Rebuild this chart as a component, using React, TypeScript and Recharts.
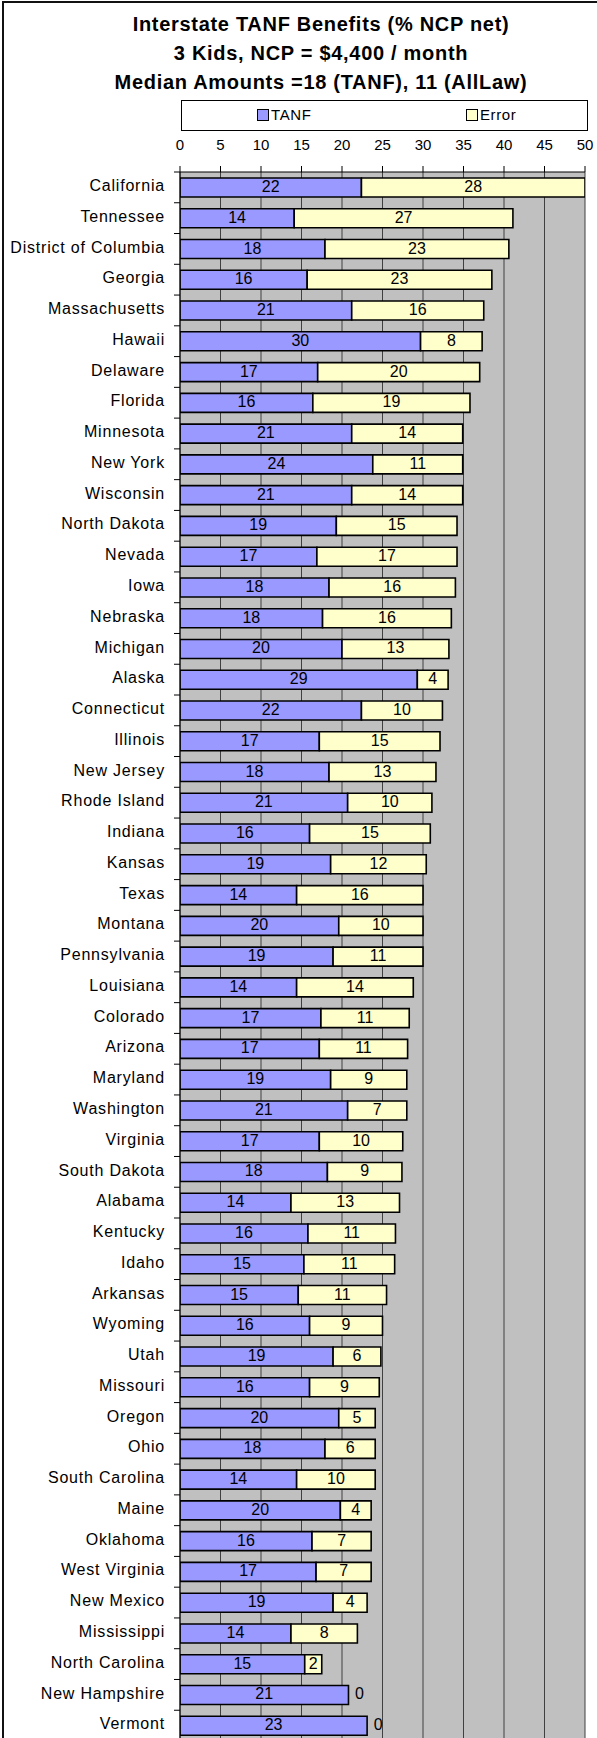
import { BarChart, Bar, XAxis, YAxis, CartesianGrid, Legend, LabelList } from 'recharts';

const states = [
  'California', 'Tennessee', 'District of Columbia', 'Georgia', 'Massachusetts', 'Hawaii', 'Delaware',
  'Florida', 'Minnesota', 'New York', 'Wisconsin', 'North Dakota', 'Nevada', 'Iowa', 'Nebraska',
  'Michigan', 'Alaska', 'Connecticut', 'Illinois', 'New Jersey', 'Rhode Island', 'Indiana', 'Kansas',
  'Texas', 'Montana', 'Pennsylvania', 'Louisiana', 'Colorado', 'Arizona', 'Maryland', 'Washington',
  'Virginia', 'South Dakota', 'Alabama', 'Kentucky', 'Idaho', 'Arkansas', 'Wyoming', 'Utah',
  'Missouri', 'Oregon', 'Ohio', 'South Carolina', 'Maine', 'Oklahoma', 'West Virginia', 'New Mexico',
  'Mississippi', 'North Carolina', 'New Hampshire', 'Vermont',
];

// TANF share (% of NCP net)
const tanf = [
  22.4, 14.1, 17.9, 15.7, 21.2, 29.7, 17.0, 16.4, 21.2, 23.8, 21.2, 19.3, 16.9, 18.4, 17.6,
  20.0, 29.3, 22.4, 17.2, 18.4, 20.7, 16.0, 18.6, 14.4, 19.6, 18.9, 14.4, 17.4, 17.2, 18.6,
  20.7, 17.2, 18.2, 13.7, 15.8, 15.3, 14.6, 16.0, 18.9, 16.0, 19.6, 17.9, 14.4, 19.8, 16.3,
  16.8, 18.9, 13.7, 15.4, 20.8, 23.1,
];

// gap to AllLaw amount
const error = [
  27.6, 27.0, 22.7, 22.8, 16.3, 7.6, 20.0, 19.4, 13.7, 11.1, 13.7, 14.9, 17.3, 15.6, 15.9,
  13.2, 3.8, 10.0, 14.9, 13.2, 10.4, 14.9, 11.8, 15.6, 10.4, 11.1, 14.4, 10.9, 10.9, 9.4,
  7.3, 10.3, 9.2, 13.4, 10.8, 11.2, 10.9, 9.0, 5.9, 8.6, 4.5, 6.2, 9.7, 3.8, 7.3,
  6.8, 4.2, 8.2, 2.1, 0, 0,
];

const xTicks = [0, 5, 10, 15, 20, 25, 30, 35, 40, 45, 50];

const seriesNames = ['TANF', 'Error'];

const titleLines = [
  'Interstate TANF Benefits (% NCP net)',
  '3 Kids, NCP = $4,400 / month',
  'Median Amounts =18 (TANF), 11 (AllLaw)',
];

const data = states.map((name, i) => ({ name, tanf: tanf[i], error: error[i] }));

const FONT = '"Liberation Sans", Arial, sans-serif';
const CHART_W = 600;
const CHART_H = 1741;
const MARGIN = { top: 100, right: 15, bottom: 0, left: 0 };
const LEGEND_H = 31;
const XAXIS_H = 41;
const YAXIS_W = 180;
const PLOT_TOP = MARGIN.top + LEGEND_H + XAXIS_H;
const ROW = (CHART_H - PLOT_TOP - MARGIN.bottom) / states.length;

function StateTick({ y, payload }: { y?: number; payload?: { value: string } }) {
  const cy = y ?? 0;
  return (
    <g>
      <line x1={YAXIS_W - 6} x2={YAXIS_W} y1={cy - ROW / 2} y2={cy - ROW / 2} stroke="#000" />
      <text
        x={YAXIS_W - 15}
        y={cy}
        dy={3.7}
        textAnchor="end"
        fontSize={16}
        letterSpacing={0.8}
        fill="#000"
        fontFamily={FONT}
      >
        {payload?.value}
      </text>
    </g>
  );
}

function labelText(cx: number, cy: number, v: number, key?: string) {
  return (
    <text key={key} x={cx} y={cy} dy={4.5} textAnchor="middle" fontSize={16} fill="#000" fontFamily={FONT}>
      {Math.round(v)}
    </text>
  );
}

// TANF segment label; also draws the "0" Error label when the error segment is empty
function TanfLabel(props: any) {
  const { x, y, width, height, value, index } = props;
  const cy = y + height / 2;
  const zeroErr = typeof index === 'number' && error[index] === 0;
  return (
    <g>
      {labelText(x + width / 2, cy, Number(value), 'v')}
      {zeroErr ? labelText(x + width + 11, cy, 0, 'z') : null}
    </g>
  );
}

function ErrorLabel(props: any) {
  const { x, y, width, height, value } = props;
  const v = Number(value);
  if (!v) return null;
  return labelText(x + width / 2, y + height / 2, v);
}

const legendPos = [75, 284];

function LegendBox({ payload }: { payload?: { value: string; color?: string; payload?: any }[] }) {
  const items = [...(payload ?? [])].sort((a, b) => seriesNames.indexOf(a.value) - seriesNames.indexOf(b.value));
  return (
    <div
      style={{
        position: 'relative',
        width: 407,
        height: LEGEND_H,
        boxSizing: 'border-box',
        border: '1px solid #000',
        background: '#fff',
        fontFamily: FONT,
        fontSize: 15,
      }}
    >
      {items.map((p, i) => (
        <div key={p.value} style={{ position: 'absolute', left: legendPos[i], top: 6, height: 15, lineHeight: '15px', whiteSpace: 'nowrap' }}>
          <span
            style={{
              display: 'inline-block',
              width: 10,
              height: 10,
              border: '1px solid #000',
              background: p.payload?.fill ?? p.color,
              marginRight: 2,
              verticalAlign: '-1px',
            }}
          />
          <span style={{ letterSpacing: 0.6 }}>{p.value}</span>
        </div>
      ))}
    </div>
  );
}

export default function App() {
  return (
    <div style={{ position: 'absolute', left: 0, top: 0, width: 597, height: 1738, overflow: 'hidden', background: '#fff', fontFamily: FONT }}>
      <div style={{ position: 'absolute', left: 2, top: 1, width: 700, height: 1800, border: '2px solid #111' }} />
      <div
        style={{
          position: 'absolute',
          left: 0,
          top: 10,
          width: 642,
          textAlign: 'center',
          fontSize: 20,
          fontWeight: 'bold',
          lineHeight: '29px',
          letterSpacing: 0.7,
          color: '#000',
        }}
      >
        {titleLines.map((t) => (
          <div key={t}>{t}</div>
        ))}
      </div>
      <div style={{ position: 'absolute', left: 0, top: 0 }}>
        <BarChart width={CHART_W} height={CHART_H} data={data} layout="vertical" margin={MARGIN} barSize={19} style={{ fontFamily: FONT }}>
          <CartesianGrid horizontal={false} stroke="#404040" fill="#C0C0C0" fillOpacity={1} />
          <Legend
            verticalAlign="top"
            align="left"
            height={LEGEND_H}
            wrapperStyle={{ left: 181, top: MARGIN.top, width: 407 }}
            content={<LegendBox />}
          />
          <XAxis
            type="number"
            orientation="top"
            domain={[0, 50]}
            ticks={xTicks}
            interval={0}
            height={XAXIS_H}
            tickSize={6}
            tickMargin={16}
            tick={{ fontSize: 15, fill: '#000', fontFamily: FONT }}
            axisLine={{ stroke: '#000' }}
            tickLine={{ stroke: '#000' }}
            allowDataOverflow
          />
          <YAxis
            type="category"
            dataKey="name"
            width={YAXIS_W}
            interval={0}
            tickLine={false}
            axisLine={{ stroke: '#000' }}
            tick={<StateTick />}
          />
          <Bar dataKey="tanf" name="TANF" stackId="a" fill="#9999FF" stroke="#000" strokeWidth={1.6} isAnimationActive={false}>
            <LabelList dataKey="tanf" content={<TanfLabel />} />
          </Bar>
          <Bar dataKey="error" name="Error" stackId="a" fill="#FFFFCC" stroke="#000" strokeWidth={1.6} isAnimationActive={false}>
            <LabelList dataKey="error" content={<ErrorLabel />} />
          </Bar>
        </BarChart>
      </div>
    </div>
  );
}
